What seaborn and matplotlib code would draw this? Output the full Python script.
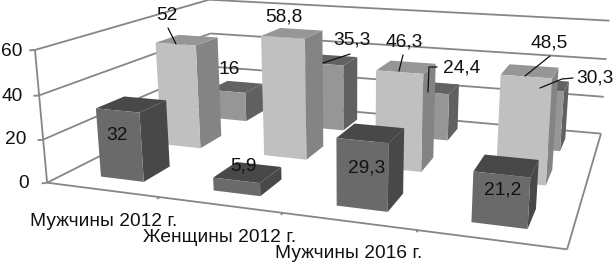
import numpy as np
import matplotlib
matplotlib.use("Agg")
import matplotlib.pyplot as plt
import seaborn as sns
from matplotlib.lines import Line2D
from mpl_toolkits.mplot3d.art3d import Line3DCollection

sns.set_theme(style="white")
plt.rcParams['font.family'] = ['Liberation Sans', 'DejaVu Sans']

# ---- data ----
categories = ["Мужчины 2012 г.", "Женщины 2012 г.", "Мужчины 2016 г.", "Женщины 2016 г."]
front_row = [32, 5.9, 29.3, 21.2]
middle_row = [52, 58.8, 46.3, 48.5]
back_row = [16, 35.3, 24.4, 30.3]
z_ticks = [0, 20, 40, 60]

W, H = 615, 263
fig = plt.figure(figsize=(W / 100, H / 100), dpi=100, facecolor="white")
ax = fig.add_axes([0, 0, 1, 1], projection="3d")
ax.set_position([0, 0, 1, 1])
ax.apply_aspect = lambda position=None: None
ax.set_axis_off()
ax.computed_zorder = False

# camera calibration: chart-space corner -> picture pixel
calib = [((0, 0, 0), (47, 182)), ((4, 0, 0), (567, 248)), ((4, 3, 0), (601, 133)),
         ((0, 3, 0), (214, 99)), ((0, 0, 60), (36, 50)), ((0, 3, 60), (208, 0)),
         ((4, 3, 60), (610, 21)), ((0, 0, 40), (39, 95)), ((0, 0, 20), (43, 138)),
         ((4, 3, 20), (603, 97)), ((4, 3, 40), (607, 59)), ((1, 0, 0), (159, 199)),
         ((2, 0, 0), (283, 215))]
A = []
b = []
for (X, Y, Z), (u, v) in calib:
    A.append([X, Y, Z, 1, 0, 0, 0, 0, -u * X, -u * Y, -u * Z])
    A.append([0, 0, 0, 0, X, Y, Z, 1, -v * X, -v * Y, -v * Z])
    b += [u, v]
p = np.linalg.lstsq(np.array(A, float), np.array(b, float), rcond=None)[0]
P = np.array([p[:4], p[4:8], p[8:11].tolist() + [1.0]])
wrow = P[2]
to_disp = np.array([[1, 0, 0], [0, -1, H], [0, 0, 1]], float)
to_data = ax.transData.get_affine().inverted().get_matrix()
Q = to_data @ to_disp @ P
M = np.vstack([Q[0], Q[1], wrow - np.array([0, 0, 0, 0.1]), Q[2]])
ax.get_proj = lambda: M

# walls and floor
gc = "#868686"
segments = []
for z in z_ticks:
    segments.append([(0, 0, z), (0, 3, z)])
    segments.append([(0, 3, z), (4, 3, z)])
    segments.append([(0, 0, z), (-0.03, -0.03, z)])
segments.append([(0, 0, 0), (0, 0, z_ticks[-1])])
segments.append([(4, 3, 0), (4, 0, 0)])
segments.append([(4, 0, 0), (0, 0, 0)])
for i in range(1, 4):
    segments.append([(i, 0, 0), (i, -0.04, 0)])
ax.add_collection3d(Line3DCollection(segments, colors=gc, linewidths=1.3, zorder=1))

# bars: faces -Z +Z -Y +Y -X +X; hidden ones transparent
rows = [front_row, middle_row, back_row]
none = (0, 0, 0, 0)
g = lambda v: (v / 255, v / 255, v / 255, 1)
row_faces = [
    [none, g(72), g(106), none, none, g(72)],
    [none, g(150), g(192), none, none, g(132)],
    [none, g(98), g(150), none, none, g(96)],
]
bw, bd = 0.39, 0.43
for j, vals in enumerate(rows):
    x = np.arange(4) + 0.315
    y = np.full(4, j + 0.28)
    colors = row_faces[j] * 4
    ax.bar3d(x, y, np.zeros(4), bw, bd, vals, color=colors, shade=False,
             linewidth=0, zorder=2 + (2 - j))

# labels
fmt = lambda v: str(v).replace(".", ",")
tc = "#111111"
fs = 13.8
tick_px = [(29, 183), (26, 140), (23, 97), (22, 52)]
for t, (px, py) in zip(z_ticks, tick_px):
    fig.text(px / W, 1 - py / H, str(t), ha="right", va="center", fontsize=fs, color=tc)
cat_px = [(30, 221), (143, 237), (275, 253)]
for c, (px, py) in zip(categories, cat_px):
    fig.text(px / W, 1 - py / H, c, ha="left", va="center", fontsize=fs, color=tc)
label_px = [
    [(117, 136), (243, 166), (367, 168), (503, 190)],
    [(167, 15), (284, 17), (404, 42), (549, 43)],
    [(229, 69), (352, 40), (462, 68), (595, 78)],
]
for vals, pos in zip(rows, label_px):
    for v, (px, py) in zip(vals, pos):
        fig.text(px / W, 1 - py / H, fmt(v), ha="center", va="center", fontsize=fs, color=tc, zorder=5)
leaders = [[(168, 28), (176, 44)], [(350, 54), (323, 63)], [(403, 55), (399, 71)],
           [(437, 67), (429, 67), (428, 92)], [(550, 56), (525, 76)],
           [(573, 78), (562, 79), (540, 88)]]
for pts in leaders:
    xs = [a / W for a, _ in pts]
    ys = [1 - c / H for _, c in pts]
    fig.add_artist(Line2D(xs, ys, color="#111111", lw=0.9, transform=fig.transFigure, zorder=4))

fig.savefig("out.png", dpi=100, facecolor="white")
